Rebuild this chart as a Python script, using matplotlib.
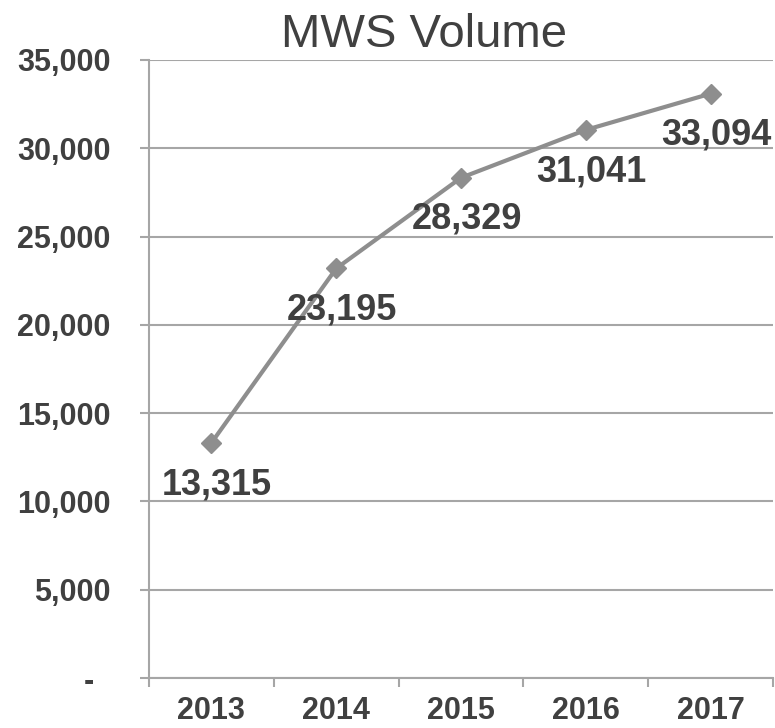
import matplotlib
matplotlib.use("Agg")
import matplotlib.pyplot as plt
from matplotlib.ticker import FixedLocator, FuncFormatter

# Datos del gráfico
years = ["2013", "2014", "2015", "2016", "2017"]
volume = [13315, 23195, 28329, 31041, 33094]
y_ticks = [0, 5000, 10000, 15000, 20000, 25000, 30000, 35000]

text_color = "#404040"
line_color = "#8e8e8e"
grid_color = "#a6a6a6"

plt.rcParams["font.family"] = ["Liberation Sans", "DejaVu Sans"]

fig = plt.figure(figsize=(7.75, 7.28), dpi=100)
ax = fig.add_axes([149 / 775, 1 - 678 / 728, 624 / 775, 618 / 728])

x = list(range(len(years)))
ax.plot(x, volume, color=line_color, lw=3, marker="D", ms=10,
        markerfacecolor=line_color, markeredgecolor=line_color, zorder=3)

# Etiquetas de datos debajo de cada punto
for xi, v in zip(x, volume):
    ax.annotate(f"{v:,}", (xi, v), xytext=(4, -30), textcoords="offset points",
                ha="center", va="center", fontsize=26, fontweight="bold",
                color=text_color, zorder=4)

ax.set_xlim(-0.5, len(years) - 0.5)
ax.set_ylim(0, 35000)

# Marcas del eje x en los límites de categoría, etiquetas en el centro
ax.xaxis.set_major_locator(FixedLocator([i - 0.5 for i in range(len(years) + 1)]))
ax.xaxis.set_major_formatter(FuncFormatter(lambda v, p: ""))
ax.set_xticks(x, labels=years, minor=True)
ax.tick_params(axis="x", which="major", length=6.5, width=1.5, color=grid_color)
ax.tick_params(axis="x", which="minor", length=0, pad=13, labelsize=22,
               labelcolor=text_color)
for lab in ax.get_xticklabels(minor=True):
    lab.set_fontweight("bold")

ax.set_yticks(y_ticks)
ax.set_yticklabels([f"{t:,}" if t else "-  " for t in y_ticks],
                   fontsize=22, fontweight="bold", color=text_color)
ax.tick_params(axis="y", length=6.5, width=1.5, color=grid_color, pad=21)

ax.grid(axis="y", color=grid_color, lw=1.5)
ax.set_axisbelow(True)
for side in ["top", "right"]:
    ax.spines[side].set_visible(False)
for side in ["left", "bottom"]:
    ax.spines[side].set_color(grid_color)
    ax.spines[side].set_linewidth(1.5)

fig.text(424 / 775, 1 - 47 / 728, "MWS Volume", ha="center", va="baseline",
         fontsize=34, color=text_color)

fig.savefig("out.png", dpi=100)
